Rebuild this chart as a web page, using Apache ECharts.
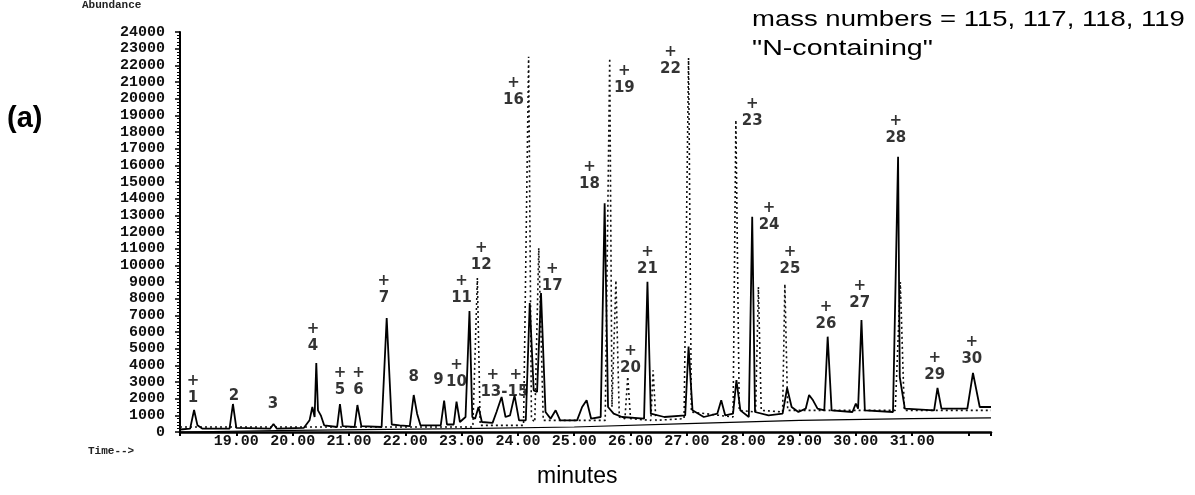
<!DOCTYPE html>
<html>
<head>
<meta charset="utf-8">
<script src="https://cdn.jsdelivr.net/npm/echarts@6/dist/echarts.min.js"></script>
<style>
  html, body { margin: 0; padding: 0; background: #fff; }
  #chart { width: 1195px; height: 495px; }
</style>
</head>
<body>
<div id="chart"></div>
<script>
// chromatogram traces, [minutes, abundance]
const solidTrace = [
  [18.00, 150], [18.18, 200], [18.25, 1320], [18.31, 400], [18.40, 200],
  [18.88, 200], [18.94, 1680], [19.00, 250],
  [19.60, 200], [19.66, 480], [19.72, 200],
  [20.20, 250], [20.30, 700], [20.35, 1500], [20.39, 900], [20.42, 4140], [20.45, 1300], [20.50, 1000], [20.56, 400],
  [20.79, 300], [20.84, 1680], [20.89, 350],
  [21.10, 300], [21.15, 1620], [21.22, 350],
  [21.58, 300], [21.67, 6840], [21.76, 450], [21.90, 400],
  [22.08, 350], [22.15, 2220], [22.21, 1100], [22.27, 400],
  [22.63, 400], [22.69, 1880], [22.74, 450],
  [22.86, 450], [22.91, 1820], [22.97, 600],
  [23.07, 900], [23.14, 7260], [23.19, 900], [23.24, 800], [23.30, 1500], [23.36, 600],
  [23.55, 550], [23.62, 1200], [23.71, 2100], [23.78, 900], [23.86, 1000], [23.94, 2200], [24.02, 700],
  [24.14, 700], [24.21, 7740], [24.28, 2500], [24.34, 2400], [24.41, 8340], [24.49, 1200], [24.58, 800], [24.67, 1300], [24.75, 700],
  [25.05, 700], [25.14, 1500], [25.22, 1900], [25.30, 800],
  [25.47, 900], [25.54, 13720], [25.60, 1500], [25.70, 1100], [25.85, 900],
  [26.24, 800], [26.30, 9020], [26.36, 1100], [26.60, 900],
  [26.97, 1000], [27.03, 5120], [27.10, 1300], [27.30, 900],
  [27.54, 1100], [27.61, 1900], [27.68, 1000],
  [27.82, 1100], [27.88, 3120], [27.95, 1300], [28.10, 900],
  [28.16, 12920], [28.21, 1200], [28.45, 1000],
  [28.70, 1100], [28.78, 2640], [28.86, 1500], [28.98, 1200],
  [29.11, 1400], [29.17, 2220], [29.24, 1900], [29.32, 1400],
  [29.44, 1300], [29.50, 5720], [29.57, 1300],
  [29.94, 1200], [30.00, 1700], [30.04, 1400], [30.10, 6720], [30.16, 1300],
  [30.66, 1200], [30.75, 16520], [30.78, 3300], [30.87, 1400],
  [31.39, 1300], [31.45, 2640], [31.52, 1400],
  [31.98, 1400], [32.08, 3540], [32.20, 1500], [32.40, 1500]
]

// other mass traces (dotted)
const dottedTrace = [
  [18.00, 300], [23.20, 300], [23.28, 9240], [23.33, 400],
  [24.10, 400], [24.19, 22520], [24.24, 800], [24.30, 600], [24.37, 11040], [24.45, 700],
  [25.55, 700], [25.63, 22420], [25.67, 1500], [25.74, 9100], [25.80, 900],
  [25.90, 800], [25.95, 3320], [26.00, 800],
  [26.36, 700], [26.40, 3700], [26.45, 700],
  [26.95, 800], [27.03, 22440], [27.08, 1200],
  [27.82, 900], [27.87, 18720], [27.93, 1300],
  [28.22, 1200], [28.27, 8700], [28.32, 1300],
  [28.70, 1200], [28.74, 8880], [28.79, 1300],
  [30.70, 1300], [30.79, 9000], [30.86, 1300], [32.40, 1300]
]

// lower baseline trace
const lowerTrace = [
  [18.00, 0], [20.00, 100], [23.00, 200], [25.00, 300], [27.00, 500], [29.00, 700], [31.00, 800], [32.40, 850]
]

// hand-written peak labels and where they sit
const peakLabels = [
  "+\n1", "2", "3", "+\n4", "+\n5", "+\n6", "+\n7", "8", "9", "+\n10",
  "+\n11", "+\n12", "+  +\n13-15", "+\n16", "+\n17", "+\n18", "+\n19", "+\n20",
  "+\n21", "+\n22", "+\n23", "+\n24", "+\n25", "+\n26", "+\n27", "+\n28", "+\n29", "+\n30"
]
const labelTime = [
  18.23, 18.96, 19.65, 20.36, 20.84, 21.17, 21.62, 22.15, 22.59, 22.91,
  23.00, 23.35, 23.76, 23.92, 24.61, 25.27, 25.89, 26.00,
  26.30, 26.71, 28.16, 28.46, 28.83, 29.47, 30.07, 30.71, 31.40, 32.06
]
const labelAbund = [
  2520, 2160, 1680, 5640, 3000, 3000, 8520, 3300, 3120, 3480,
  8520, 10500, 2880, 20400, 9240, 15360, 21120, 4320,
  10260, 22260, 19140, 12900, 10260, 6960, 8220, 18120, 3900, 4860
]

const myChart = echarts.init(document.getElementById("chart"))

const option = {
  animation: false,
  backgroundColor: "#fff",
  grid: { left: 180, right: 204, top: 32, bottom: 63 },
  xAxis: {
    type: "value",
    min: 18,
    max: 32.4,
    interval: 1,
    axisLine: { lineStyle: { color: "#000", width: 2.5 } },
    axisTick: { show: true, length: 4, lineStyle: { color: "#000", width: 2 } },
    axisLabel: {
      color: "#111",
      fontFamily: "Liberation Mono",
      fontWeight: "bold",
      fontSize: 15,
      margin: 2,
      formatter: (v) => (v < 18.5 || v > 31.5 ? "" : v.toFixed(2)),
    },
    splitLine: { show: false },
  },
  yAxis: {
    type: "value",
    min: 0,
    max: 24000,
    interval: 1000,
    axisLine: { show: true, lineStyle: { color: "#000", width: 2 } },
    axisTick: { show: true, length: 5, lineStyle: { color: "#000", width: 1.5 } },
    minorTick: { show: true, splitNumber: 5, length: 3, lineStyle: { color: "#000" } },
    axisLabel: {
      color: "#111",
      fontFamily: "Liberation Mono",
      fontWeight: "bold",
      fontSize: 15,
      margin: 15,
      formatter: (v) => String(v),
    },
    splitLine: { show: false },
  },
  graphic: [
    { type: "text", left: 7, top: 104, style: { text: "(a)", font: "bold 29px 'Liberation Sans'", fill: "#000" } },
    { type: "text", left: 752, top: 9, scaleX: 1.25, style: { text: "mass numbers = 115, 117, 118, 119", font: "22px 'Liberation Sans'", fill: "#000" } },
    { type: "text", left: 752, top: 38, scaleX: 1.3, style: { text: "\"N-containing\"", font: "22px 'Liberation Sans'", fill: "#000" } },
    { type: "text", left: 537, top: 465, style: { text: "minutes", font: "23px 'Liberation Sans'", fill: "#000" } },
    { type: "text", left: 82, top: 0, style: { text: "Abundance", font: "bold 11px 'Liberation Mono'", fill: "#222" } },
    { type: "text", left: 88, top: 446, style: { text: "Time-->", font: "bold 11px 'Liberation Mono'", fill: "#222" } },
  ],
  series: [
    {
      name: "lower",
      type: "line",
      data: lowerTrace,
      showSymbol: false,
      silent: true,
      lineStyle: { color: "#000", width: 1.2 },
    },
    {
      name: "dotted",
      type: "line",
      data: dottedTrace,
      showSymbol: false,
      silent: true,
      lineStyle: { color: "#111", width: 1.6, type: [2, 3] },
    },
    {
      name: "solid",
      type: "line",
      data: solidTrace,
      showSymbol: false,
      silent: true,
      lineStyle: { color: "#000", width: 1.8 },
    },
    {
      name: "labels",
      type: "scatter",
      data: labelTime.map((t, i) => [t, labelAbund[i], peakLabels[i]]),
      symbolSize: 0,
      silent: true,
      label: {
        show: true,
        position: "inside",
        formatter: (p) => p.data[2],
        color: "#000",
        fontFamily: "DejaVu Sans",
        fontWeight: "bold",
        fontSize: 15,
        lineHeight: 17,
        align: "center",
      },
    },
  ],
}

myChart.setOption(option)
</script>
</body>
</html>
